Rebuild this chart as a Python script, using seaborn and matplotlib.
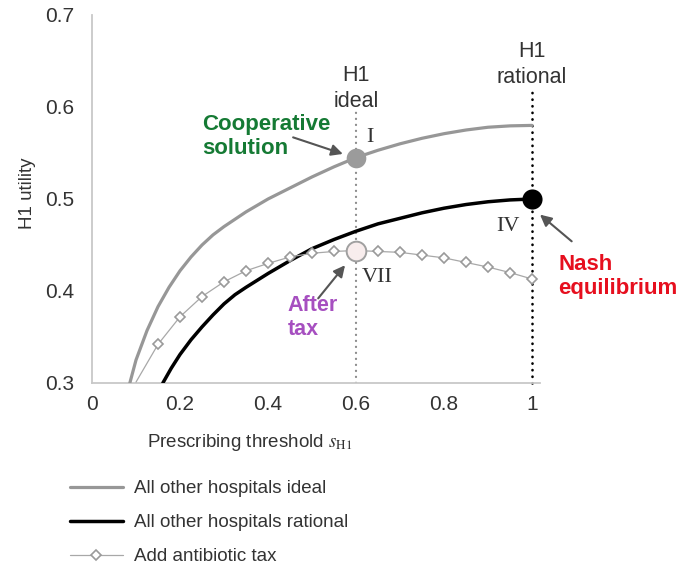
import matplotlib
matplotlib.use("Agg")
import matplotlib.pyplot as plt
import seaborn as sns
import pandas as pd

# --- data -------------------------------------------------------------
# H1 utility when all other hospitals play their ideal threshold
s_ideal = [0.086, 0.10, 0.125, 0.15, 0.175, 0.20, 0.225, 0.25, 0.275, 0.30, 0.325,
           0.35, 0.375, 0.40, 0.45, 0.50, 0.55, 0.60, 0.65, 0.70, 0.75, 0.80,
           0.85, 0.90, 0.95, 1.00]
u_ideal = [0.300, 0.325, 0.357, 0.383, 0.404, 0.422, 0.437, 0.450, 0.461, 0.470, 0.478,
           0.486, 0.493, 0.500, 0.512, 0.524, 0.535, 0.545, 0.553, 0.560, 0.566, 0.571,
           0.575, 0.578, 0.5795, 0.580]

# H1 utility when all other hospitals play their rational threshold
s_rational = [0.161, 0.18, 0.20, 0.225, 0.25, 0.275, 0.30, 0.325, 0.35, 0.40, 0.45,
              0.50, 0.55, 0.60, 0.65, 0.70, 0.75, 0.80, 0.85, 0.90, 0.95, 1.00]
u_rational = [0.300, 0.316, 0.331, 0.347, 0.361, 0.374, 0.386, 0.396, 0.404, 0.419, 0.433,
              0.446, 0.456, 0.465, 0.473, 0.479, 0.485, 0.490, 0.494, 0.497, 0.499, 0.500]

# H1 utility with an antibiotic tax (first entry only continues the line to the axis)
s_tax = [0.10, 0.15, 0.20, 0.25, 0.30, 0.35, 0.40, 0.45, 0.50, 0.55,
         0.60, 0.65, 0.70, 0.75, 0.80, 0.85, 0.90, 0.95, 1.00]
u_tax = [0.301, 0.342, 0.372, 0.394, 0.410, 0.422, 0.430, 0.437, 0.441, 0.443,
         0.444, 0.443, 0.442, 0.439, 0.436, 0.431, 0.426, 0.420, 0.413]

series_labels = ["All other hospitals ideal", "All other hospitals rational", "Add antibiotic tax"]

s_h1_ideal = 0.6
s_h1_rational = 1.0

x_ticks = [0, 0.2, 0.4, 0.6, 0.8, 1.0]
x_tick_labels = ["0", "0.2", "0.4", "0.6", "0.8", "1"]
y_ticks = [0.3, 0.4, 0.5, 0.6, 0.7]
y_tick_labels = ["0.3", "0.4", "0.5", "0.6", "0.7"]

df_ideal = pd.DataFrame({"s": s_ideal, "u": u_ideal})
df_rational = pd.DataFrame({"s": s_rational, "u": u_rational})
df_tax = pd.DataFrame({"s": s_tax, "u": u_tax})

coop_u = u_ideal[s_ideal.index(s_h1_ideal)]
nash_u = u_rational[s_rational.index(s_h1_rational)]
tax_u = u_tax[s_tax.index(s_h1_ideal)]

# --- style ------------------------------------------------------------
sns.set_style("white")
plt.rcParams["font.family"] = ["Liberation Sans", "DejaVu Sans"]
plt.rcParams["mathtext.fontset"] = "stix"

TXT = "#333333"
SPINE = "#c8c8c8"
GRAY = "#979797"
SERIF = ["Liberation Serif", "DejaVu Serif"]

fig = plt.figure(figsize=(6.79, 5.66), dpi=100)
ax = fig.add_axes([92 / 679, 1 - 383 / 566, 448 / 679, 368 / 566])

# reference lines for the two H1 thresholds
ax.plot([s_h1_ideal, s_h1_ideal], [0.3, 0.595], color="#8a8a8a", lw=1.6,
        linestyle=(0, (0.1, 2.6)), dash_capstyle="round", zorder=2)
ax.plot([s_h1_rational, s_h1_rational], [0.3, 0.616], color="black", lw=1.9,
        linestyle=(0, (0.1, 2.4)), dash_capstyle="round", zorder=2, clip_on=False)

# curves
sns.lineplot(data=df_ideal, x="s", y="u", ax=ax, color=GRAY, lw=2.3,
             label=series_labels[0], zorder=3)
sns.lineplot(data=df_rational, x="s", y="u", ax=ax, color="black", lw=2.5,
             label=series_labels[1], zorder=3)
sns.lineplot(data=df_tax, x="s", y="u", ax=ax, color="#a8a8a8", lw=0.9,
             marker="D", markersize=5.4, markerfacecolor="white",
             markeredgecolor="#9a9a9a", markeredgewidth=1.2,
             markevery=list(range(1, len(s_tax))),
             label=series_labels[2], zorder=4)

# highlighted solutions
sns.scatterplot(x=[s_h1_ideal], y=[coop_u], ax=ax, s=200, color="#9b9b9b",
                edgecolor="#9b9b9b", linewidth=0, zorder=6, legend=False)
sns.scatterplot(x=[s_h1_rational], y=[nash_u], ax=ax, s=210, color="black",
                edgecolor="black", linewidth=0, zorder=6, legend=False, clip_on=False)
sns.scatterplot(x=[s_h1_ideal], y=[tax_u], ax=ax, s=200, color="#f8eded",
                edgecolor="#a0a0a0", linewidth=1.4, zorder=6, legend=False)

# axes
ax.set_xlim(0, 1.018)
ax.set_ylim(0.3, 0.7)
ax.set_xticks(x_ticks)
ax.set_xticklabels(x_tick_labels)
ax.set_yticks(y_ticks)
ax.set_yticklabels(y_tick_labels)
sns.despine(ax=ax)
for side in ("left", "bottom"):
    ax.spines[side].set_color(SPINE)
    ax.spines[side].set_linewidth(1.3)
ax.tick_params(axis="both", colors=SPINE, labelcolor=TXT, labelsize=15,
               length=4, width=1.2, direction="out")
ax.tick_params(axis="y", pad=9)
ax.tick_params(axis="x", pad=5)

ax.set_ylabel("H1 utility", fontsize=13.5, color=TXT)
ax.yaxis.set_label_coords(-0.145, 0.515)
ax.yaxis.label.set_va("center")
ax.set_xlabel(r"Prescribing threshold $s_{\mathrm{H1}}$", fontsize=13.5, color=TXT)
ax.xaxis.set_label_coords(0.353, -0.162)
ax.xaxis.label.set_va("center")

# annotations
ax.text(s_h1_ideal, 0.620, "H1\nideal", ha="center", va="center", fontsize=15.5,
        color=TXT, linespacing=1.3)
ax.text(s_h1_rational, 0.646, "H1\nrational", ha="center", va="center", fontsize=15.5,
        color=TXT, linespacing=1.3, clip_on=False)

ax.text(0.25, 0.568, "Cooperative\nsolution", ha="left", va="center", fontsize=16,
        fontweight="bold", color="#157a34", linespacing=1.2)
ax.text(1.059, 0.416, "Nash\nequilibrium", ha="left", va="center", fontsize=16,
        fontweight="bold", color="#e60f1e", linespacing=1.2)
ax.text(0.445, 0.371, "After\ntax", ha="left", va="center", fontsize=15.5,
        fontweight="bold", color="#a64fc0", linespacing=1.15)

arrow = dict(arrowstyle="-|>", color="#555555", lw=1.5, mutation_scale=17,
             shrinkA=0, shrinkB=0)
ax.annotate("", xy=(0.570, 0.549), xytext=(0.457, 0.567), arrowprops=arrow)
ax.annotate("", xy=(1.018, 0.483), xytext=(1.090, 0.454), arrowprops=arrow,
            annotation_clip=False)
ax.annotate("", xy=(0.575, 0.428), xytext=(0.514, 0.392), arrowprops=arrow)

ax.text(0.632, 0.567, "I", ha="center", va="center", fontsize=16, family=SERIF, color=TXT)
ax.text(0.945, 0.470, "IV", ha="center", va="center", fontsize=16, family=SERIF, color=TXT)
ax.text(0.648, 0.415, "VII", ha="center", va="center", fontsize=16, family=SERIF, color=TXT)

# legend below the plot
leg = ax.legend(loc="upper left", bbox_to_anchor=(70 / 679, 1 - 480 / 566),
                bbox_transform=fig.transFigure, frameon=False, fontsize=13.5,
                handlelength=2.8, handletextpad=0.6, labelspacing=0.9,
                borderpad=0, borderaxespad=0)
for t in leg.get_texts():
    t.set_color(TXT)

fig.savefig("out.png", dpi=100)
